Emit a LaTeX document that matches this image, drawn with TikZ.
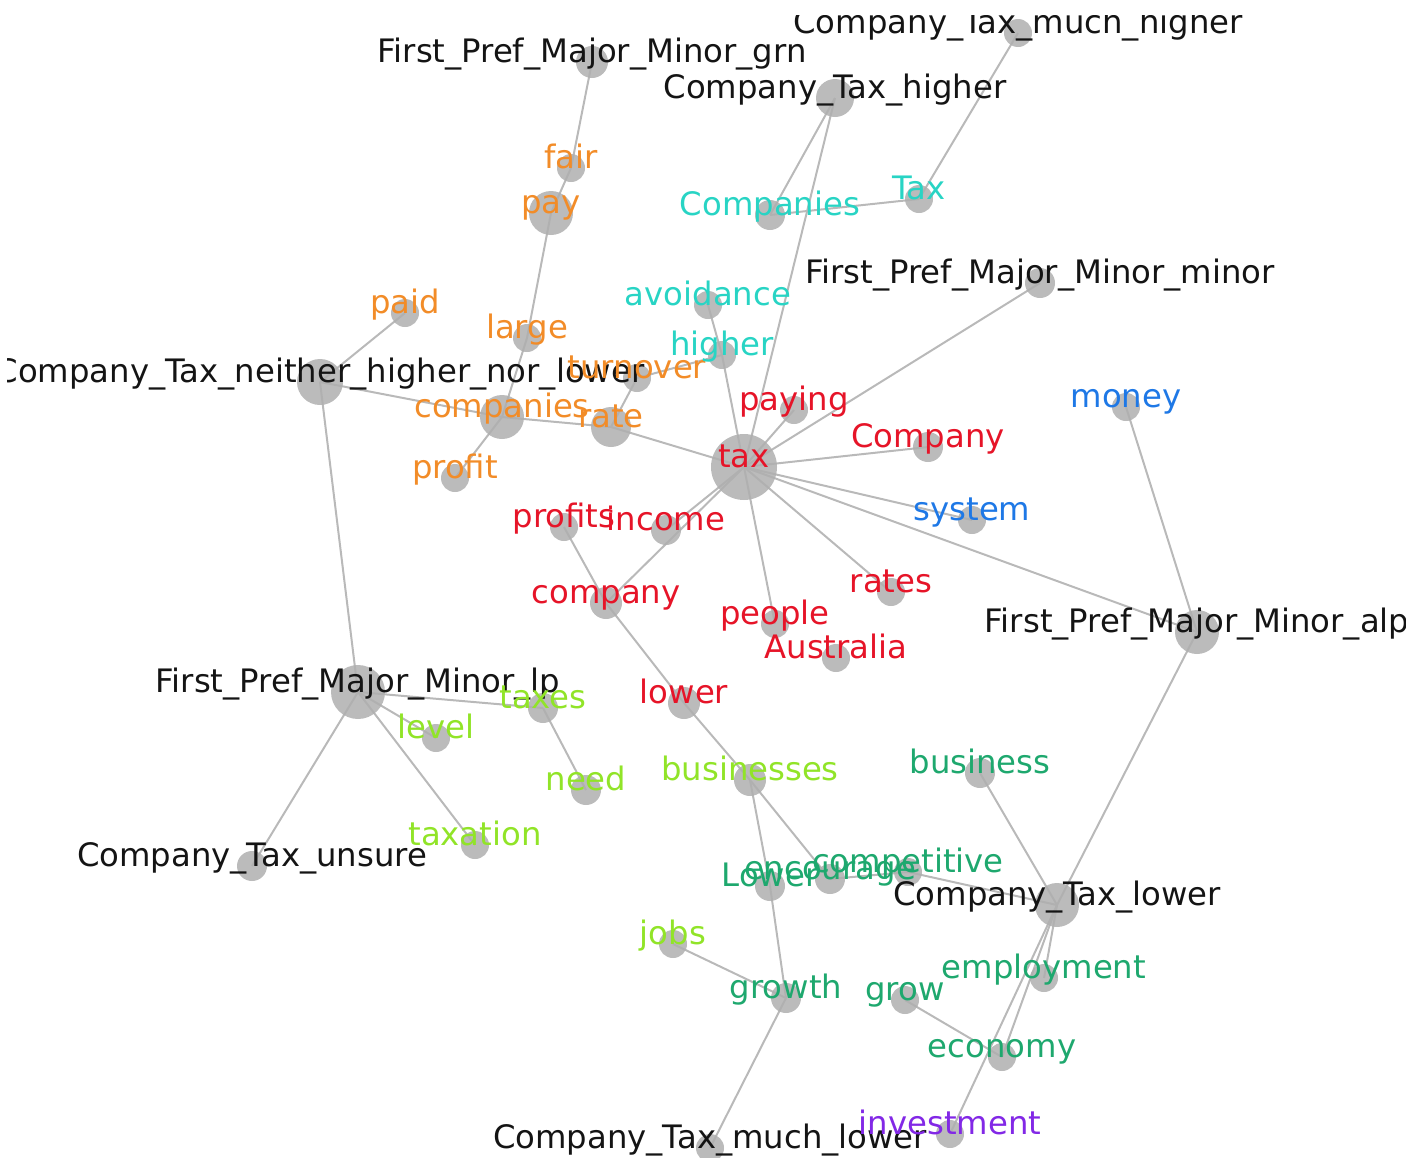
\documentclass[tikz,border=0pt]{standalone}
\usepackage{fontspec}
\setmainfont{DejaVu Sans}
\pgfdeclarelayer{edges}
\pgfsetlayers{edges,main}
\definecolor{cblack}{RGB}{20,20,20}
\definecolor{corange}{RGB}{242,140,40}
\definecolor{ccyan}{RGB}{40,212,196}
\definecolor{cred}{RGB}{230,20,40}
\definecolor{cblue}{RGB}{30,120,230}
\definecolor{clime}{RGB}{145,228,40}
\definecolor{cgreen}{RGB}{30,168,110}
\definecolor{cpurple}{RGB}{130,40,230}
\definecolor{cdot}{RGB}{175,175,175}
\definecolor{cedge}{RGB}{185,185,185}
\begin{document}
\begin{tikzpicture}[x=0.5pt,y=-0.5pt,
  dot/.style={circle,fill=cdot,draw=none,inner sep=0pt,fill opacity=0.85},
  lbl/.style={anchor=base,inner sep=0pt,font=\fontsize{16.15}{19}\selectfont},
  edge/.style={draw=cedge,line width=1pt}]
\useasboundingbox (0,0) rectangle (1422,1157);
\clip (7,15) rectangle (1405,1157);
% circles
\newcommand\Dot[4]{\node[dot,minimum size=#4pt] (#1) at (#2,#3) {};}
\Dot{cmh}{1018}{33}{14}
\Dot{grn}{592}{62}{16}
\Dot{cth}{835}{98}{19}
\Dot{minor}{1040}{283}{15}
\Dot{neither}{320}{382}{23}
\Dot{alp}{1197}{632}{22}
\Dot{lp}{358}{692}{27}
\Dot{unsure}{252}{866}{15}
\Dot{ctl}{1057}{905}{22}
\Dot{cml}{710}{1148}{14}
\Dot{fair}{571}{168}{14}
\Dot{pay}{551}{213}{22}
\Dot{paid}{405}{313}{14}
\Dot{large}{527}{338}{14}
\Dot{turnover}{637}{378}{14}
\Dot{companies}{502}{417}{22}
\Dot{rate}{611}{427}{20}
\Dot{profit}{455}{478}{14}
\Dot{Companies}{770}{215}{15}
\Dot{Tax}{919}{199}{14}
\Dot{avoidance}{708}{305}{14}
\Dot{higher}{722}{355}{14}
\Dot{tax}{744}{467}{33}
\Dot{paying}{794}{410}{14}
\Dot{Company}{928}{447}{15}
\Dot{profits}{564}{527}{14}
\Dot{income}{666}{530}{15}
\Dot{company}{606}{603}{16}
\Dot{rates}{891}{592}{14}
\Dot{people}{775}{624}{14}
\Dot{Australia}{836}{658}{14}
\Dot{lower}{684}{703}{16}
\Dot{money}{1126}{407}{14}
\Dot{system}{972}{520}{14}
\Dot{taxes}{543}{708}{15}
\Dot{level}{436}{738}{14}
\Dot{need}{586}{790}{15}
\Dot{businesses}{750}{780}{16}
\Dot{taxation}{475}{845}{14}
\Dot{jobs}{673}{944}{14}
\Dot{business}{980}{773}{15}
\Dot{Lower}{770}{886}{15}
\Dot{encourage}{830}{879}{15}
\Dot{competitive}{908}{872}{14}
\Dot{growth}{786}{998}{15}
\Dot{grow}{905}{1000}{14}
\Dot{employment}{1044}{978}{14}
\Dot{economy}{1002}{1057}{14}
\Dot{investment}{950}{1134}{14}
% edges
\begin{pgfonlayer}{edges}
\foreach \a/\b in {grn/fair,fair/pay,pay/large,large/companies,companies/profit,
  neither/paid,neither/companies,companies/rate,rate/tax,neither/lp,
  higher/turnover,turnover/rate,avoidance/higher,higher/tax,
  cth/tax,cth/Companies,Companies/Tax,Tax/cmh,
  tax/paying,tax/minor,tax/Company,tax/system,tax/alp,tax/rates,tax/people,tax/income,tax/company,
  profits/company,company/lower,lower/businesses,businesses/encourage,encourage/competitive,
  competitive/ctl,businesses/Lower,Lower/growth,jobs/growth,growth/cml,grow/economy,
  economy/ctl,employment/ctl,investment/ctl,business/ctl,ctl/alp,money/alp,
  lp/taxes,taxes/need,lp/level,lp/taxation,lp/unsure}
  \draw[edge] (\a.center) -- (\b.center);
\end{pgfonlayer}
% labels
\newcommand\Lbl[3]{\node[lbl,text=#2] (l#1) at (#1.center) {#3};}
\Lbl{cmh}{cblack}{Company\_Tax\_much\_higher}
\Lbl{grn}{cblack}{First\_Pref\_Major\_Minor\_grn}
\Lbl{cth}{cblack}{Company\_Tax\_higher}
\Lbl{minor}{cblack}{First\_Pref\_Major\_Minor\_minor}
\Lbl{neither}{cblack}{Company\_Tax\_neither\_higher\_nor\_lower}
\Lbl{alp}{cblack}{First\_Pref\_Major\_Minor\_alp}
\Lbl{lp}{cblack}{First\_Pref\_Major\_Minor\_lp}
\Lbl{unsure}{cblack}{Company\_Tax\_unsure}
\Lbl{ctl}{cblack}{Company\_Tax\_lower}
\Lbl{cml}{cblack}{Company\_Tax\_much\_lower}
\Lbl{fair}{corange}{fair}
\Lbl{pay}{corange}{pay}
\Lbl{paid}{corange}{paid}
\Lbl{large}{corange}{large}
\Lbl{turnover}{corange}{turnover}
\Lbl{companies}{corange}{companies}
\Lbl{rate}{corange}{rate}
\Lbl{profit}{corange}{profit}
\Lbl{Companies}{ccyan}{Companies}
\Lbl{Tax}{ccyan}{Tax}
\Lbl{avoidance}{ccyan}{avoidance}
\Lbl{higher}{ccyan}{higher}
\Lbl{tax}{cred}{tax}
\Lbl{paying}{cred}{paying}
\Lbl{Company}{cred}{Company}
\Lbl{profits}{cred}{profits}
\Lbl{income}{cred}{income}
\Lbl{company}{cred}{company}
\Lbl{rates}{cred}{rates}
\Lbl{people}{cred}{people}
\Lbl{Australia}{cred}{Australia}
\Lbl{lower}{cred}{lower}
\Lbl{money}{cblue}{money}
\Lbl{system}{cblue}{system}
\Lbl{taxes}{clime}{taxes}
\Lbl{level}{clime}{level}
\Lbl{need}{clime}{need}
\Lbl{businesses}{clime}{businesses}
\Lbl{taxation}{clime}{taxation}
\Lbl{jobs}{clime}{jobs}
\Lbl{business}{cgreen}{business}
\Lbl{Lower}{cgreen}{Lower}
\Lbl{encourage}{cgreen}{encourage}
\Lbl{competitive}{cgreen}{competitive}
\Lbl{growth}{cgreen}{growth}
\Lbl{grow}{cgreen}{grow}
\Lbl{employment}{cgreen}{employment}
\Lbl{economy}{cgreen}{economy}
\Lbl{investment}{cpurple}{investment}
\end{tikzpicture}
\end{document}
